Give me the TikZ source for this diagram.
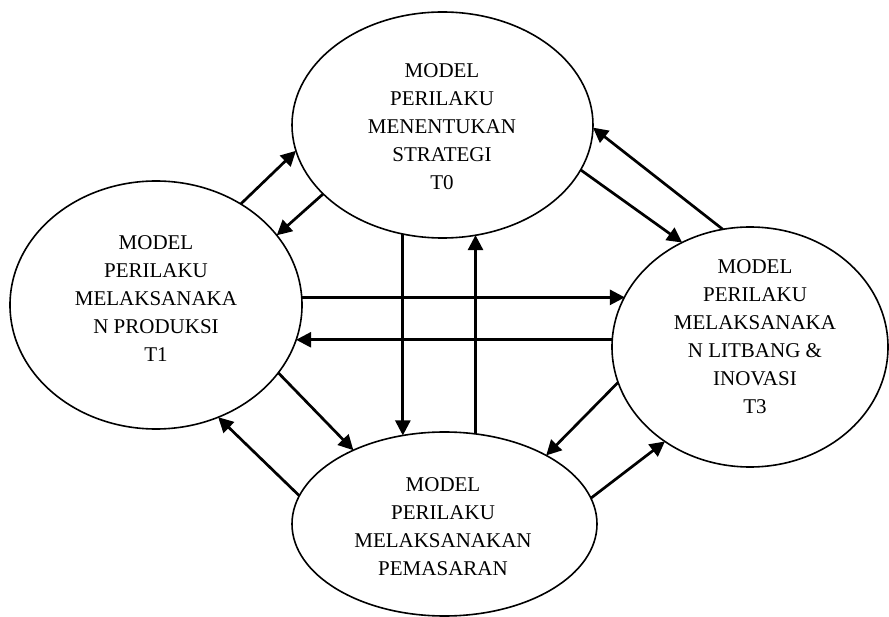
\documentclass[tikz,border=0pt]{standalone}
\usepackage{fontspec}
\setmainfont{Liberation Serif}
\usetikzlibrary{shapes.geometric,arrows.meta}
\begin{document}
\begin{tikzpicture}[x=1pt,y=-1pt,
  oval/.style={draw, line width=1.6pt, ellipse, inner sep=0pt, outer sep=0pt},
  lbl/.style={align=center, inner sep=0pt, font=\fontsize{21}{28}\selectfont},
  arr/.style={line width=2.7pt, -{Triangle[length=15pt,width=15pt]}}]
\useasboundingbox (0,0) rectangle (889,617);
% ellipses
\node[oval, minimum width=301pt, minimum height=226pt] (T) at (442.5,125) {};
\node[oval, minimum width=292pt, minimum height=248pt] (L) at (156,305) {};
\node[oval, minimum width=276pt, minimum height=240pt] (R) at (750,347) {};
\node[oval, minimum width=305pt, minimum height=184pt] (B) at (444.5,524) {};
% labels
\node[lbl] (Tt) at (442,127) {MODEL\\PERILAKU\\MENENTUKAN\\STRATEGI\\T0};
\node[lbl] (Lt) at (156,299) {MODEL\\PERILAKU\\MELAKSANAKA\\N PRODUKSI\\T1};
\node[lbl] (Rt) at (755,337) {MODEL\\PERILAKU\\MELAKSANAKA\\N LITBANG \&\\INOVASI\\T3};
\node[lbl] (Bt) at (443,527) {MODEL\\PERILAKU\\MELAKSANAKAN\\PEMASARAN};
% T <-> L
\draw[arr] (L.50) -- (T.190);
\draw[arr] (T.210.4) -- (L.30.8);
% T <-> R
\draw[arr] (T.-18.5) -- (R.123.3);
\draw[arr] (R.103.3) -- (T.-1.5);
% L <-> R horizontal
\draw[arr] (L.3.55) -- (L.3.55 -| R.158.9);
\draw[arr] (R.177.5) -- (R.177.5 -| L.-14.7);
% T <-> B vertical
\draw[arr] (T.250.2) -- (T.250.2 |- B.115.25);
\draw[arr] (B.71.3) -- (B.71.3 |- T.-73.2);
% L <-> B
\draw[arr] (L.-29.7) -- (B.141.8);
\draw[arr] (B.169.5) -- (L.-61.8);
% R <-> B
\draw[arr] (R.195.5) -- (B.34.7);
\draw[arr] (B.10.3) -- (R.228.3);
\end{tikzpicture}
\end{document}
